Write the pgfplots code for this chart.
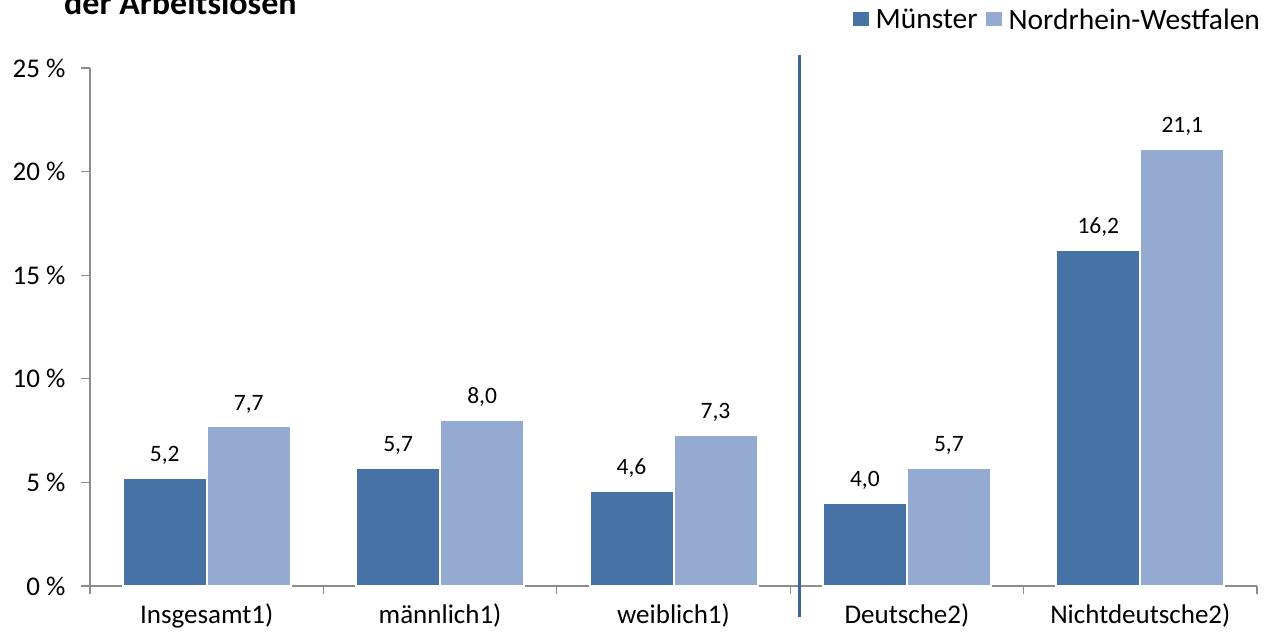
\documentclass[border=0pt]{standalone}
\usepackage{fontspec}
\setmainfont{Carlito}
\usepackage{pgfplots}
\pgfplotsset{compat=1.18}
\definecolor{cMS}{RGB}{70,114,166}
\definecolor{cNRW}{RGB}{149,170,208}
\definecolor{cLine}{RGB}{59,100,155}
\definecolor{cAx}{RGB}{140,140,140}
\begin{document}
\begin{tikzpicture}[x=1pt,y=1pt]
\useasboundingbox (0,0) rectangle (1287,634);
\node[anchor=base west, inner sep=0pt, font=\fontsize{34}{36}\selectfont\bfseries] at (64,619) {der Arbeitslosen};
\begin{axis}[
  at={(90pt,48pt)}, anchor=south west,
  scale only axis, width=1167pt, height=518pt,
  xmin=-0.5, xmax=4.5, ymin=0, ymax=25,
  ybar=0pt, bar width=84pt,
  axis lines*=left,
  axis line style={cAx, line width=1.2pt},
  tick align=outside,
  major tick length=9pt, minor tick length=8pt,
  every tick/.style={cAx, line width=1.2pt},
  ytick={0,5,...,25},
  yticklabel={\pgfmathprintnumber{\tick} \%},
  /pgf/number format/assume math mode=true,
  xtick={0,1,2,3,4},
  xticklabels={Insgesamt1), männlich1), weiblich1), Deutsche2), Nichtdeutsche2)},
  minor xtick={-0.5,0.5,1.5,2.5,3.5,4.5},
  major x tick style={draw=none},
  tick label style={font=\fontsize{27}{30}\selectfont, black},
  xticklabel style={yshift=-5pt},
  yticklabel style={xshift=-12pt},
  clip=false,
  nodes near coords={\pgfmathprintnumber[fixed,fixed zerofill,precision=1,use comma,assume math mode=true]{\pgfplotspointmeta}},
  every node near coord/.append style={font=\fontsize{23.5}{26}\selectfont, black, yshift=9pt},
  legend style={at={(1.007,1.093)}, anchor=east, draw=none, fill=none,
    font=\fontsize{29.5}{32}\selectfont, legend columns=2,
    /tikz/every even column/.append style={column sep=4pt}},
  legend image code/.code={\fill[#1] (0pt,-7pt) rectangle (18pt,9pt); \path (21pt,0pt);},
]
\addplot[fill=cMS, draw=white, line width=2pt] coordinates {(0,5.2) (1,5.7) (2,4.6) (3,4.0) (4,16.2)};
\addplot[fill=cNRW, draw=white, line width=2pt] coordinates {(0,7.7) (1,8.0) (2,7.3) (3,5.7) (4,21.1)};
\legend{Münster, Nordrhein-Westfalen}
\draw[cLine, line width=3pt] (axis cs:2.538,-1.5) -- (axis cs:2.538,25.63);
\end{axis}
\end{tikzpicture}
\end{document}
